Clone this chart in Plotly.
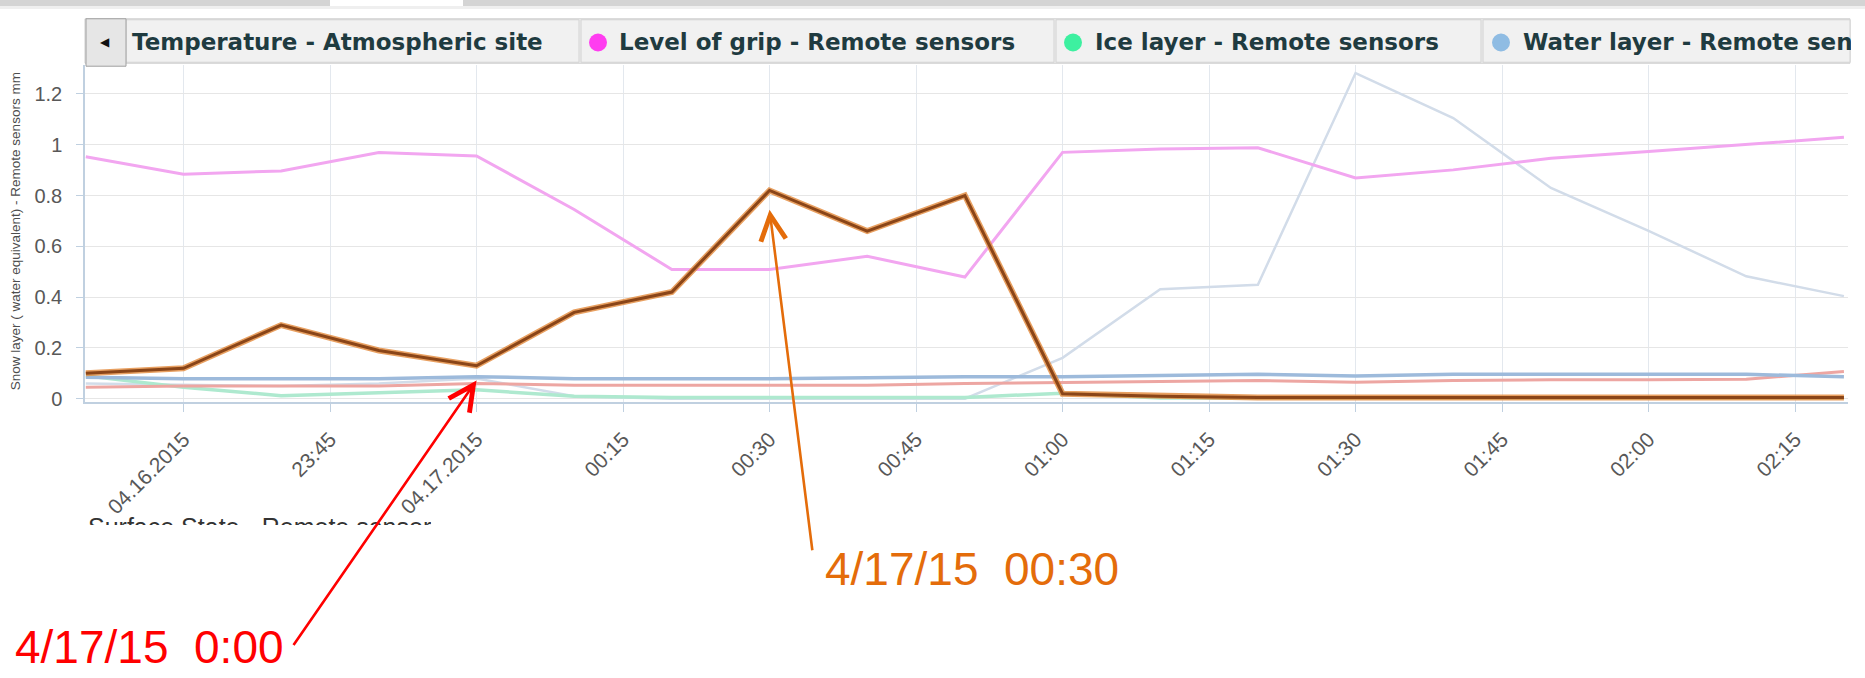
import plotly.graph_objects as go

W, H = 1865, 678

def px(x):
    return x / W

def py(y):
    return 1 - y / H

# ---------------- data ----------------
times = [
    "2015-04-16 23:20", "2015-04-16 23:30", "2015-04-16 23:40", "2015-04-16 23:50",
    "2015-04-17 00:00", "2015-04-17 00:10", "2015-04-17 00:20", "2015-04-17 00:30",
    "2015-04-17 00:40", "2015-04-17 00:50", "2015-04-17 01:00", "2015-04-17 01:10",
    "2015-04-17 01:20", "2015-04-17 01:30", "2015-04-17 01:40", "2015-04-17 01:50",
    "2015-04-17 02:00", "2015-04-17 02:10", "2015-04-17 02:20",
]
snow_layer = [0.10, 0.12, 0.29, 0.19, 0.13, 0.34, 0.42, 0.82, 0.66, 0.80,
              0.02, 0.01, 0.005, 0.005, 0.005, 0.005, 0.005, 0.005, 0.005]
level_of_grip = [0.953, 0.884, 0.897, 0.969, 0.956, 0.745, 0.509, 0.509, 0.561, 0.479,
                 0.970, 0.983, 0.988, 0.869, 0.901, 0.947, 0.973, 1.001, 1.029]
light_layer = [0.06, 0.055, 0.05, 0.06, 0.08, 0.01, 0.0, 0.0, 0.0, 0.0,
               0.161, 0.431, 0.449, 1.282, 1.105, 0.830, 0.661, 0.482, 0.404]
water_layer = [0.085, 0.079, 0.079, 0.079, 0.087, 0.079, 0.079, 0.079, 0.083, 0.087,
               0.087, 0.090, 0.096, 0.090, 0.096, 0.096, 0.096, 0.096, 0.087]
salmon_layer = [0.045, 0.050, 0.050, 0.050, 0.060, 0.053, 0.053, 0.053, 0.053, 0.060,
                0.065, 0.068, 0.072, 0.065, 0.072, 0.075, 0.075, 0.077, 0.107]
ice_layer = [0.090, 0.045, 0.012, 0.025, 0.035, 0.010, 0.005, 0.005, 0.005, 0.005,
             0.022, 0.003, 0.003, 0.003, 0.003, 0.003, 0.003, 0.003, 0.003]

tick_vals = ["2015-04-16 23:30", "2015-04-16 23:45", "2015-04-17 00:00", "2015-04-17 00:15",
             "2015-04-17 00:30", "2015-04-17 00:45", "2015-04-17 01:00", "2015-04-17 01:15",
             "2015-04-17 01:30", "2015-04-17 01:45", "2015-04-17 02:00", "2015-04-17 02:15"]
tick_text = ["04.16.2015", "23:45", "04.17.2015", "00:15", "00:30", "00:45",
             "01:00", "01:15", "01:30", "01:45", "02:00", "02:15"]
y_vals = [0, 0.2, 0.4, 0.6, 0.8, 1.0, 1.2]
y_text = ["0", "0.2", "0.4", "0.6", "0.8", "1", "1.2"]

tabs = ["Temperature - Atmospheric site", "Level of grip - Remote sensors",
        "Ice layer - Remote sensors", "Water layer - Remote sensors"]
tab_dots = [None, "#FF3DF0", "#3DF0A0", "#8FBCE3"]

# ---------------- figure ----------------
fig = go.Figure()

def line(y, color, width, name):
    fig.add_trace(go.Scatter(x=times, y=y, mode="lines", name=name,
                             line=dict(color=color, width=width),
                             hoverinfo="skip", showlegend=False))

line(light_layer, "#D2DCE9", 2.5, "Remote sensors (light)")
line(ice_layer, "#AEE9CF", 3.5, "Ice layer - Remote sensors")
line(salmon_layer, "#EDA6A2", 3, "Remote sensors (red)")
line(water_layer, "#9DBADB", 3.5, "Water layer - Remote sensors")
line(level_of_grip, "#F2A6F0", 3, "Level of grip - Remote sensors")
line(snow_layer, "rgba(226,136,58,0.8)", 6, "Snow layer halo")
line(snow_layer, "#8A4518", 3, "Snow layer (water equivalent) - Remote sensors")

x_tick_font = dict(family="Liberation Sans, Arial, sans-serif", size=21, color="#585858")
y_tick_font = dict(family="Liberation Sans, Arial, sans-serif", size=20, color="#585858")

fig.update_layout(
    width=W, height=H,
    margin=dict(l=0, r=0, t=0, b=0),
    paper_bgcolor="white", plot_bgcolor="white",
    showlegend=False,
    xaxis=dict(
        type="date", domain=[px(85), px(1848)],
        range=["2015-04-16 23:19:55", "2015-04-17 02:20:25"],
        tickvals=tick_vals, ticktext=tick_text, tickangle=-45,
        tickfont=x_tick_font, ticks="outside", ticklen=8, tickcolor="#C0D0E0",
        ticklabelstandoff=7,
        showgrid=True, gridcolor="#E3E8EE", gridwidth=1,
        showline=True, linecolor="#C0D0E0", linewidth=1.5, zeroline=False,
        anchor="y",
    ),
    yaxis=dict(
        domain=[py(407), py(66)], range=[-0.0136, 1.313],
        tickvals=y_vals, ticktext=y_text, tickfont=y_tick_font,
        ticks="outside", ticklen=7, tickcolor="#C0D0E0", ticklabelstandoff=10,
        showgrid=True, gridcolor="#E6E6E6", gridwidth=1,
        showline=True, linecolor="#C0D0E0", linewidth=1.5, zeroline=False,
        anchor="x",
    ),
)

shapes = []
# thin gray strip at the very top
shapes.append(dict(type="rect", xref="paper", yref="paper", x0=0, x1=px(330), y0=py(6), y1=py(0),
                   fillcolor="#D4D4D4", line=dict(width=0), layer="above"))
shapes.append(dict(type="rect", xref="paper", yref="paper", x0=px(463), x1=1, y0=py(6), y1=py(0),
                   fillcolor="#D4D4D4", line=dict(width=0), layer="above"))
shapes.append(dict(type="rect", xref="paper", yref="paper", x0=0, x1=1, y0=py(9), y1=py(6),
                   fillcolor="#EFEFEF", line=dict(width=0), layer="above"))
# tab bar
shapes.append(dict(type="rect", xref="paper", yref="paper", x0=px(85), x1=px(1850), y0=py(64), y1=py(19),
                   fillcolor="#EEEEEE", line=dict(color="#CFCFCF", width=1), layer="above"))
tab_edges = [(126, 579), (581, 1054), (1056, 1481), (1483, 1850)]
for x0, x1 in tab_edges:
    shapes.append(dict(type="rect", xref="paper", yref="paper", x0=px(x0), x1=px(x1), y0=py(63), y1=py(20),
                       fillcolor="#F1F1F1", line=dict(color="#D2D2D2", width=1), layer="above"))
# arrow button
shapes.append(dict(type="rect", xref="paper", yref="paper", x0=px(86), x1=px(126), y0=py(67), y1=py(19),
                   fillcolor="#E6E6E6", line=dict(color="#A0A0A0", width=1), layer="above"))
dot_x = [None, 598, 1073, 1501]
for cx, col in zip(dot_x, tab_dots):
    if col is None:
        continue
    shapes.append(dict(type="circle", xref="paper", yref="paper", x0=px(cx - 9), x1=px(cx + 9),
                       y0=py(52), y1=py(34), fillcolor=col, line=dict(width=0), layer="above"))
fig.update_layout(shapes=shapes)

ann = []
ann.append(dict(xref="paper", yref="paper", x=px(105), y=py(42), text="◀", showarrow=False,
                font=dict(family="DejaVu Sans", size=12, color="#111111"), xanchor="center", yanchor="middle"))
tab_text_x = [131, 618, 1094, 1522]
tab_font = dict(family="DejaVu Sans, Verdana, sans-serif", size=23, color="#1F3B40")
for i, (tx, label) in enumerate(zip(tab_text_x, tabs)):
    a = dict(xref="paper", yref="paper", x=px(tx), y=py(43), text="<b>" + label + "</b>",
             showarrow=False, font=tab_font, xanchor="left", yanchor="middle", align="left",
             borderpad=0)
    if i == len(tabs) - 1:
        a["width"] = 1850 - tx
    ann.append(a)

# y axis title
ann.append(dict(xref="paper", yref="paper", x=px(15), y=py(234),
                text="Snow layer ( water equivalent) - Remote sensors mm", textangle=-90,
                showarrow=False, font=dict(family="Liberation Sans, Arial, sans-serif", size=13.5, color="#4D4D4D"),
                xanchor="center", yanchor="middle"))

# clipped heading below the chart
ann.append(dict(xref="paper", yref="paper", x=px(87), y=py(518), text="Surface State - Remote sensor",
                showarrow=False, font=dict(family="Liberation Sans, Arial, sans-serif", size=25, color="#333333"),
                xanchor="left", yanchor="top", valign="top", align="left", height=12, borderpad=0))

# callout texts
ann.append(dict(xref="paper", yref="paper", x=px(13), y=py(655), text="4/17/15\u00a0\u00a00:00",
                showarrow=False, font=dict(family="Liberation Sans, Arial, sans-serif", size=46, color="#FF0000"),
                xanchor="left", yanchor="middle"))
ann.append(dict(xref="paper", yref="paper", x=px(823), y=py(576), text="4/17/15\u00a0\u00a000:30",
                showarrow=False, font=dict(family="Liberation Sans, Arial, sans-serif", size=46, color="#E46C0A"),
                xanchor="left", yanchor="middle"))
# callout arrows
ann.append(dict(xref="x", yref="y", x=times[4], y=0.072, text="", showarrow=True,
                ax=-184, ay=266, arrowcolor="#FF0000", arrowwidth=2.6, arrowhead=5, arrowsize=1.9, standoff=0))
ann.append(dict(xref="x", yref="y", x=times[7], y=0.744, text="", showarrow=True,
                ax=43, ay=342, arrowcolor="#E46C0A", arrowwidth=2.6, arrowhead=5, arrowsize=1.9, standoff=0))
fig.update_layout(annotations=ann)

fig.write_html("out.html", config={"displayModeBar": False},
               post_script="document.body.style.margin='0';document.body.style.overflow='hidden';")
